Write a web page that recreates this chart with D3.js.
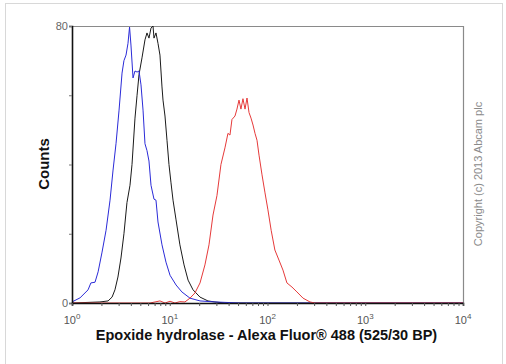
<!DOCTYPE html>
<html>
<head>
<meta charset="utf-8">
<script src="https://cdn.jsdelivr.net/npm/d3@7"></script>
<style>
body { margin: 0; background: #fff; }
text { font-family: "Liberation Sans", Arial, sans-serif; }
</style>
</head>
<body>
<script>
// fluorescence intensity / counts
var blueX = [1.00, 1.21, 1.46, 1.56, 1.72, 1.85, 2.03, 2.23, 2.45, 2.63, 2.82, 3.03, 3.25, 3.40, 3.57, 3.74, 3.88, 4.01, 4.21, 4.41, 4.63, 4.85, 5.08, 5.33, 5.58, 5.85, 6.13, 6.43, 6.90, 7.23, 7.58, 8.33, 9.15, 10.07, 11.6, 13.3, 16.1, 20.4, 29.0, 52.3, 10000];
var blueY = [0.3, 1.5, 3.8, 5.8, 6.0, 9.0, 14.7, 21.0, 29.7, 38.4, 46.0, 55.7, 66.4, 70.0, 71.6, 75.0, 79.7, 74.5, 65.0, 67.0, 66.7, 67.0, 63.0, 55.7, 46.0, 44.0, 41.0, 34.0, 30.0, 29.7, 23.4, 16.8, 11.8, 8.0, 5.2, 3.2, 1.4, 0.6, 0.3, 0, 0];

var blackX = [1.00, 1.93, 2.34, 2.57, 2.75, 2.95, 3.17, 3.40, 3.65, 3.92, 4.11, 4.41, 4.63, 4.85, 5.20, 5.58, 5.85, 6.13, 6.43, 6.74, 6.90, 7.23, 7.58, 7.94, 8.33, 8.53, 8.94, 9.37, 9.82, 10.3, 10.8, 11.6, 12.7, 14.0, 15.4, 17.3, 20.4, 24.6, 29.0, 36.7, 10000];
var blackY = [0, 0.3, 0.6, 1.7, 3.8, 7.5, 13.0, 20.0, 29.0, 34.0, 40.0, 53.4, 60.0, 66.0, 70.8, 76.0, 78.0, 76.5, 79.4, 80.0, 76.5, 78.0, 75.0, 71.6, 62.4, 58.6, 54.0, 47.0, 40.0, 34.7, 29.7, 24.0, 16.8, 11.0, 6.6, 3.8, 1.7, 0.6, 0.3, 0, 0];

var redX = [1.00, 6.28, 7.94, 8.94, 10.07, 11.3, 12.7, 14.3, 16.1, 18.1, 20.4, 22.9, 25.2, 27.7, 30.4, 33.4, 36.7, 39.4, 41.3, 43.3, 46.5, 48.7, 51.1, 53.5, 56.1, 58.9, 61.7, 64.7, 67.8, 71.1, 74.5, 78.1, 81.9, 87.9, 94.3, 101, 109, 119, 131, 144, 158, 178, 200, 231, 272, 306, 10000];
var redY = [0, 0, 0.6, 0, 0.5, 0, 0.4, 0.3, 1.4, 2.9, 5.8, 11.0, 16.8, 25.4, 31.0, 40.0, 44.8, 49.0, 48.5, 53.0, 54.0, 56.0, 58.6, 56.0, 59.0, 56.0, 59.2, 55.0, 53.4, 51.4, 49.0, 47.0, 42.7, 37.0, 31.8, 26.9, 21.0, 15.3, 12.4, 9.5, 5.8, 4.6, 3.2, 1.4, 0.3, 0, 0];

var yTicks = [0, 20, 40, 60, 80];
var yTickLabels = ["0", "", "", "", "80"];
var xDecades = [1, 10, 100, 1000, 10000];
var xExponents = ["0", "1", "2", "3", "4"];

var xTitle = "Epoxide hydrolase - Alexa Fluor\u00ae 488 (525/30 BP)";
var yTitle = "Counts";
var copyright = "Copyright (c) 2013 Abcam plc";

var width = 506, height = 364;
var margin = {top: 26, right: 43, bottom: 61, left: 72};
var w = width - margin.left - margin.right,
	h = height - margin.top - margin.bottom;

var svg = d3.select("body").append("svg")
	.attr("width", width)
	.attr("height", height);

// outer frame of the picture
svg.append("rect")
	.attr("x", 5.5)
	.attr("y", 3.5)
	.attr("width", 497)
	.attr("height", 380)
	.attr("fill", "none")
	.attr("stroke", "#d8d8d8");

var g = svg.append("g")
	.attr("transform", "translate(" + margin.left + "," + margin.top + ")");

var x = d3.scaleLog().domain([1, 10000]).range([0, w]);
var y = d3.scaleLinear().domain([0, 80]).range([h, 0]);

// top and right frame
g.append("path")
	.attr("d", "M0,0.5H" + (w + 0.5) + "V" + h)
	.attr("fill", "none")
	.attr("stroke", "#8a8a8a")
	.attr("stroke-width", 1.2);

var line = d3.line()
	.x(function(d){ return x(d[0]); })
	.y(function(d){ return y(d[1]); });

var series = [
	{xs: blackX, ys: blackY, color: "#1a1a1a"},
	{xs: blueX, ys: blueY, color: "#2b2bd8"},
	{xs: redX, ys: redY, color: "#e63a3a"}
];

series.forEach(function(s){
	g.append("path")
		.datum(s.xs.map(function(v, i){ return [v, s.ys[i]]; }))
		.attr("fill", "none")
		.attr("stroke", s.color)
		.attr("stroke-width", 1)
		.attr("stroke-linejoin", "round")
		.attr("d", line);
});

// y axis
var yAxis = g.append("g")
	.attr("class", "y axis")
	.call(d3.axisLeft(y).tickValues(yTicks).tickSize(3).tickFormat(function(d, i){ return yTickLabels[i]; }));
yAxis.select(".domain").attr("stroke", "#111").attr("stroke-width", 1.6);
yAxis.selectAll(".tick line").attr("stroke", "#777");
yAxis.selectAll(".tick text")
	.attr("x", -4)
	.attr("font-size", 11)
	.attr("fill", "#666");

// x axis, minor log ticks
var minor = [];
for (var dec = 1; dec < 10000; dec *= 10) {
	for (var k = 2; k < 10; k++) minor.push(dec * k);
}
var xAxis = g.append("g")
	.attr("class", "x axis")
	.attr("transform", "translate(0," + h + ")")
	.call(d3.axisBottom(x).tickValues(xDecades.concat(minor)).tickSize(3).tickFormat(""));
xAxis.select(".domain").attr("stroke", "#111").attr("stroke-width", 1.6);
xAxis.selectAll(".tick line").attr("stroke", "#555");

var xLabels = g.append("g")
	.selectAll("text")
	.data(xDecades)
	.enter()
	.append("text")
	.attr("x", function(d){ return x(d); })
	.attr("y", h + 21)
	.attr("text-anchor", "middle")
	.attr("font-size", 11)
	.attr("fill", "#555");
xLabels.append("tspan").text("10");
xLabels.append("tspan")
	.attr("dy", -5)
	.attr("font-size", 8)
	.text(function(d, i){ return xExponents[i]; });

// titles
svg.append("text")
	.attr("x", margin.left + w / 2 - 1)
	.attr("y", 340)
	.attr("text-anchor", "middle")
	.attr("font-weight", "bold")
	.attr("font-size", 14.5)
	.attr("fill", "#111")
	.text(xTitle);

svg.append("text")
	.attr("transform", "translate(49,164) rotate(-90)")
	.attr("text-anchor", "middle")
	.attr("font-weight", "bold")
	.attr("font-size", 15)
	.attr("fill", "#111")
	.text(yTitle);

svg.append("text")
	.attr("transform", "translate(482,174) rotate(-90)")
	.attr("text-anchor", "middle")
	.attr("font-size", 11)
	.attr("fill", "#8a8a8a")
	.text(copyright);
</script>
</body>
</html>
